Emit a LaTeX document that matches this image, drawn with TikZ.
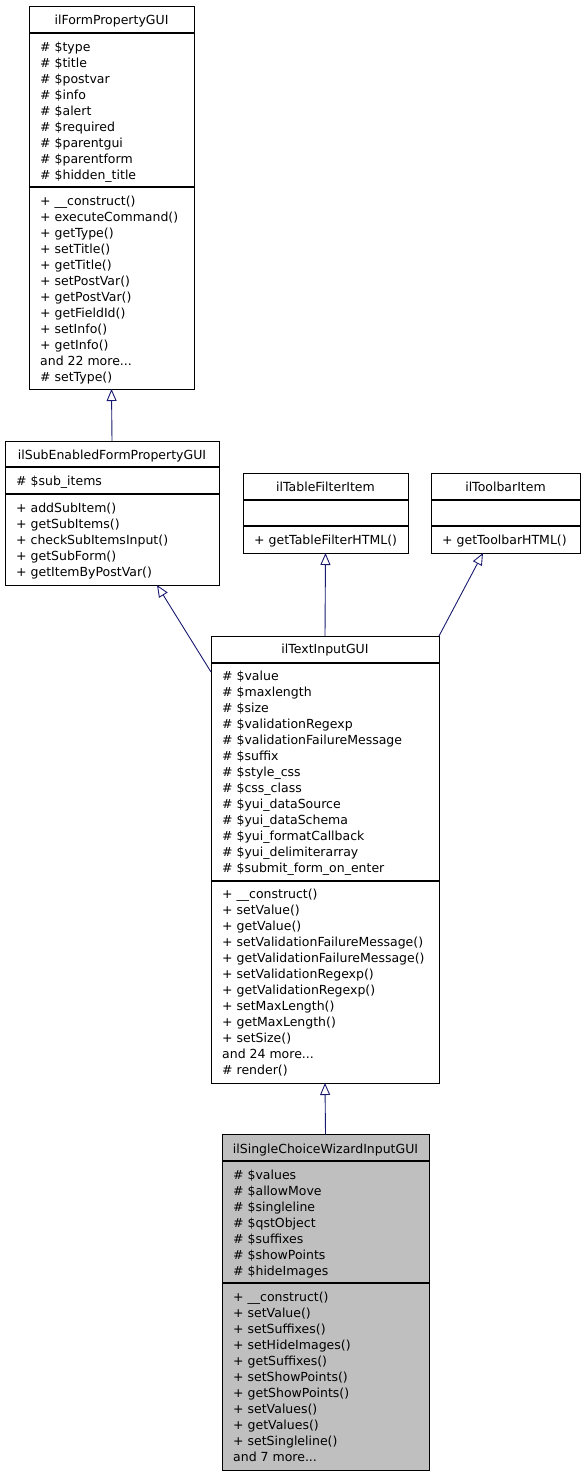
\documentclass[tikz,border=0pt]{standalone}
\usepackage{fontspec}
\setmainfont{DejaVu Sans}
\usepackage{tikz}
\usetikzlibrary{arrows.meta}
\definecolor{edgeblue}{HTML}{191970}
\definecolor{boxgray}{HTML}{BFBFBF}

\begin{document}
\begin{tikzpicture}[
x=1pt,y=-1pt,
font=\fontsize{12.5}{16}\selectfont,
class/.style={draw,anchor=north west,inner sep=0pt,outer sep=0pt,line width=1pt},
sep/.style={line width=1.5pt},
title/.style={anchor=base,inner sep=0pt},
members/.style={anchor=north west,inner sep=0pt,align=left},
inherit/.style={-{Triangle[open,length=12pt,width=10pt]},draw=edgeblue,line width=0.9pt}]
\useasboundingbox (0,0) rectangle (584,1477);

% Draw class boxes
\node[class,minimum width=165pt,minimum height=382pt] (formprop) at (29,7) {};
\node[class,minimum width=214pt,minimum height=144pt] (subenabled) at (5,441) {};
\node[class,minimum width=165pt,minimum height=80pt] (tablefilter) at (243,473) {};
\node[class,minimum width=149pt,minimum height=80pt] (toolbar) at (431,473) {};
\node[class,minimum width=228pt,minimum height=447pt] (textinput) at (211,636) {};
\node[class,fill=boxgray,minimum width=207pt,minimum height=336pt] (wizard) at (222,1134) {};

% separators
\draw[sep] (29,33) -- (194,33) (29,187) -- (194,187);
\draw[sep] (5,467) -- (219,467) (5,494) -- (219,494);
\draw[sep] (243,500) -- (408,500) (243,526) -- (408,526);
\draw[sep] (431,500) -- (580,500) (431,526) -- (580,526);
\draw[sep] (211,663) -- (439,663) (211,881) -- (439,881);
\draw[sep] (222,1161) -- (429,1161) (222,1283) -- (429,1283);

% ilFormPropertyGUI
\node[title] (formprop-t) at (111.5,25) {ilFormPropertyGUI};
\node[members] (formprop-a) at (40,39.8) {\strut\# \$type\\\# \$title\\\# \$postvar\\\# \$info\\\# \$alert\\\# \$required\\\# \$parentgui\\\# \$parentform\\\# \$hidden\_title};
\node[members] (formprop-m) at (40,193.8) {\strut+ \_\_construct()\\+ executeCommand()\\+ getType()\\+ setTitle()\\+ getTitle()\\+ setPostVar()\\+ getPostVar()\\+ getFieldId()\\+ setInfo()\\+ getInfo()\\and 22 more...\\\# setType()};

% ilSubEnabledFormPropertyGUI
\node[title] (subenabled-t) at (112,459) {ilSubEnabledFormPropertyGUI};
\node[members] (subenabled-a) at (16,473.8) {\strut\# \$sub\_items};
\node[members] (subenabled-m) at (16,500.8) {\strut+ addSubItem()\\+ getSubItems()\\+ checkSubItemsInput()\\+ getSubForm()\\+ getItemByPostVar()};

% ilTableFilterItem, ilToolbarItem
\node[title] (tablefilter-t) at (325.5,491) {ilTableFilterItem};
\node[members] (tablefilter-m) at (254,532.8) {\strut+ getTableFilterHTML()};
\node[title] (toolbar-t) at (505.5,491) {ilToolbarItem};
\node[members] (toolbar-m) at (442,532.8) {\strut+ getToolbarHTML()};

% ilTextInputGUI
\node[title] (textinput-t) at (325,653) {ilTextInputGUI};
\node[members] (textinput-a) at (222,669) {\strut\# \$value\\\# \$maxlength\\\# \$size\\\# \$validationRegexp\\\# \$validationFailureMessage\\\# \$suffix\\\# \$style\_css\\\# \$css\_class\\\# \$yui\_dataSource\\\# \$yui\_dataSchema\\\# \$yui\_formatCallback\\\# \$yui\_delimiterarray\\\# \$submit\_form\_on\_enter};
\node[members] (textinput-m) at (222,887.5) {\strut+ \_\_construct()\\+ setValue()\\+ getValue()\\+ setValidationFailureMessage()\\+ getValidationFailureMessage()\\+ setValidationRegexp()\\+ getValidationRegexp()\\+ setMaxLength()\\+ getMaxLength()\\+ setSize()\\and 24 more...\\\# render()};

% ilSingleChoiceWizardInputGUI
\node[title] (wizard-t) at (325.5,1153) {ilSingleChoiceWizardInputGUI};
\node[members] (wizard-a) at (233,1168) {\strut\# \$values\\\# \$allowMove\\\# \$singleline\\\# \$qstObject\\\# \$suffixes\\\# \$showPoints\\\# \$hideImages};
\node[members] (wizard-m) at (233,1290.5) {\strut+ \_\_construct()\\+ setValue()\\+ setSuffixes()\\+ setHideImages()\\+ getSuffixes()\\+ setShowPoints()\\+ getShowPoints()\\+ setValues()\\+ getValues()\\+ setSingleline()\\and 7 more...};

% Draw inheritance
\draw[inherit] (subenabled.north) -- (formprop.south);
\draw[inherit] ([yshift=-36pt]textinput.north west) -- ([xshift=45pt]subenabled.south);
\draw[inherit] (textinput.north) -- (tablefilter.south);
\draw[inherit] (textinput.north east) -- ([xshift=-22.5pt]toolbar.south);
\draw[inherit] (wizard.north) -- (textinput.south);

\end{tikzpicture}
\end{document}
